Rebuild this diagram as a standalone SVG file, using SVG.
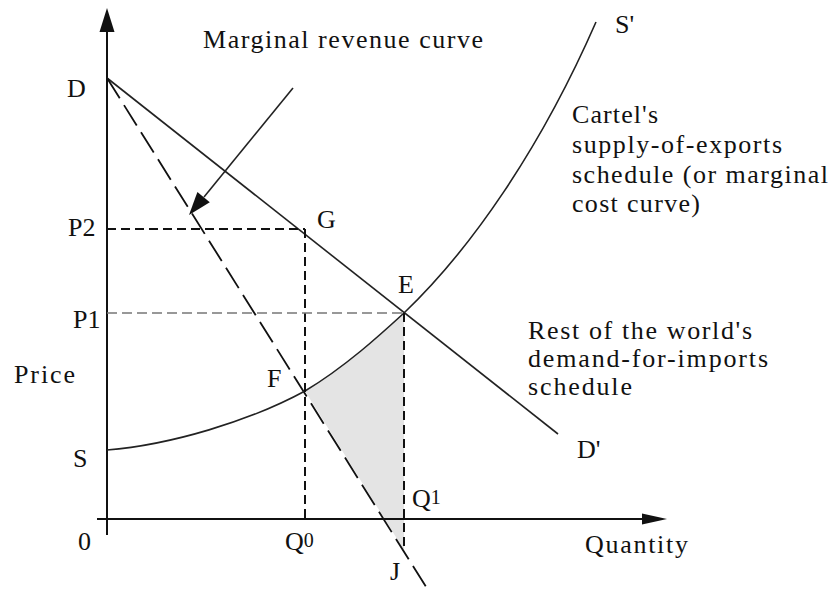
<svg xmlns="http://www.w3.org/2000/svg" width="832" height="590" viewBox="0 0 832 590">
<style>
  text { font-family: "Liberation Serif", "Times New Roman", serif; font-size: 26px; fill: #111; }
  .axis { stroke: #111; stroke-width: 2; fill: none; }
  .curve { stroke: #222; stroke-width: 1.6; fill: none; }
  .dash { stroke: #111; stroke-width: 2; stroke-dasharray: 9 5; fill: none; }
  .dashlight { stroke: #777; stroke-width: 1.6; stroke-dasharray: 10 5; fill: none; }
  .mr { stroke: #111; stroke-width: 1.8; stroke-dasharray: 24 8; fill: none; }
</style>
<rect width="832" height="590" fill="#fff"/>

<g id="shaded-area">
  <path d="M305,391 C345,367 380,335 404,313 L404,550 Z" fill="#e4e4e4" stroke="none"/>
</g>

<g id="connectors">
  <!-- axes -->
  <line class="axis" x1="107" y1="535" x2="107" y2="30"/>
  <polygon points="107,8 99.5,32 114.5,32" fill="#111"/>
  <line class="axis" x1="97" y1="519" x2="645" y2="519"/>
  <polygon points="667,519 642,513.5 642,524.5" fill="#111"/>
  <!-- demand curve D-D' -->
  <line class="curve" x1="107" y1="78" x2="558" y2="434"/>
  <!-- marginal revenue curve -->
  <line class="mr" x1="107" y1="78" x2="428" y2="590"/>
  <!-- supply curve S-S' -->
  <path class="curve" d="M107,450 C170,445 250,421 305,391 C345,367 380,335 404,313 C470,250 540,150 596,22"/>
  <!-- guide lines -->
  <line class="dash" x1="107" y1="229" x2="305" y2="229"/>
  <line class="dash" x1="305" y1="229" x2="305" y2="519"/>
  <line class="dashlight" x1="107" y1="313" x2="404" y2="313"/>
  <line class="dash" x1="404" y1="313" x2="404" y2="550"/>
  <!-- pointer arrow -->
  <line x1="293" y1="88" x2="204" y2="197" stroke="#222" stroke-width="1.6"/>
  <polygon points="189,215 197.4,192.1 209.8,202.3" fill="#111"/>
</g>

<g id="labels">
  <text x="203" y="48" textLength="280" lengthAdjust="spacing">Marginal revenue curve</text>
  <text x="67" y="97">D</text>
  <text x="68" y="236">P2</text>
  <text x="317" y="228">G</text>
  <text x="398" y="293">E</text>
  <text x="73" y="328">P1</text>
  <text x="14" y="383" textLength="61" lengthAdjust="spacing">Price</text>
  <text x="267" y="387">F</text>
  <text x="73" y="467">S</text>
  <text x="78" y="550">0</text>
  <text x="285" y="550">Q<tspan font-size="20" dy="-3">0</tspan></text>
  <text x="412" y="507">Q<tspan font-size="20" dy="-3">1</tspan></text>
  <text x="390" y="580">J</text>
  <text x="585" y="553" textLength="103" lengthAdjust="spacing">Quantity</text>
  <text x="577" y="458">D'</text>
  <text x="615" y="33">S'</text>
</g>

<g id="supply-note">
  <text x="572" y="123" textLength="86" lengthAdjust="spacing">Cartel's</text>
  <text x="572" y="153" textLength="210" lengthAdjust="spacing">supply-of-exports</text>
  <text x="572" y="183" textLength="256" lengthAdjust="spacing">schedule (or marginal</text>
  <text x="572" y="212" textLength="128" lengthAdjust="spacing">cost curve)</text>
</g>

<g id="demand-note">
  <text x="528" y="339" textLength="224" lengthAdjust="spacing">Rest of the world's</text>
  <text x="528" y="367" textLength="240" lengthAdjust="spacing">demand-for-imports</text>
  <text x="528" y="395" textLength="104" lengthAdjust="spacing">schedule</text>
</g>
</svg>
